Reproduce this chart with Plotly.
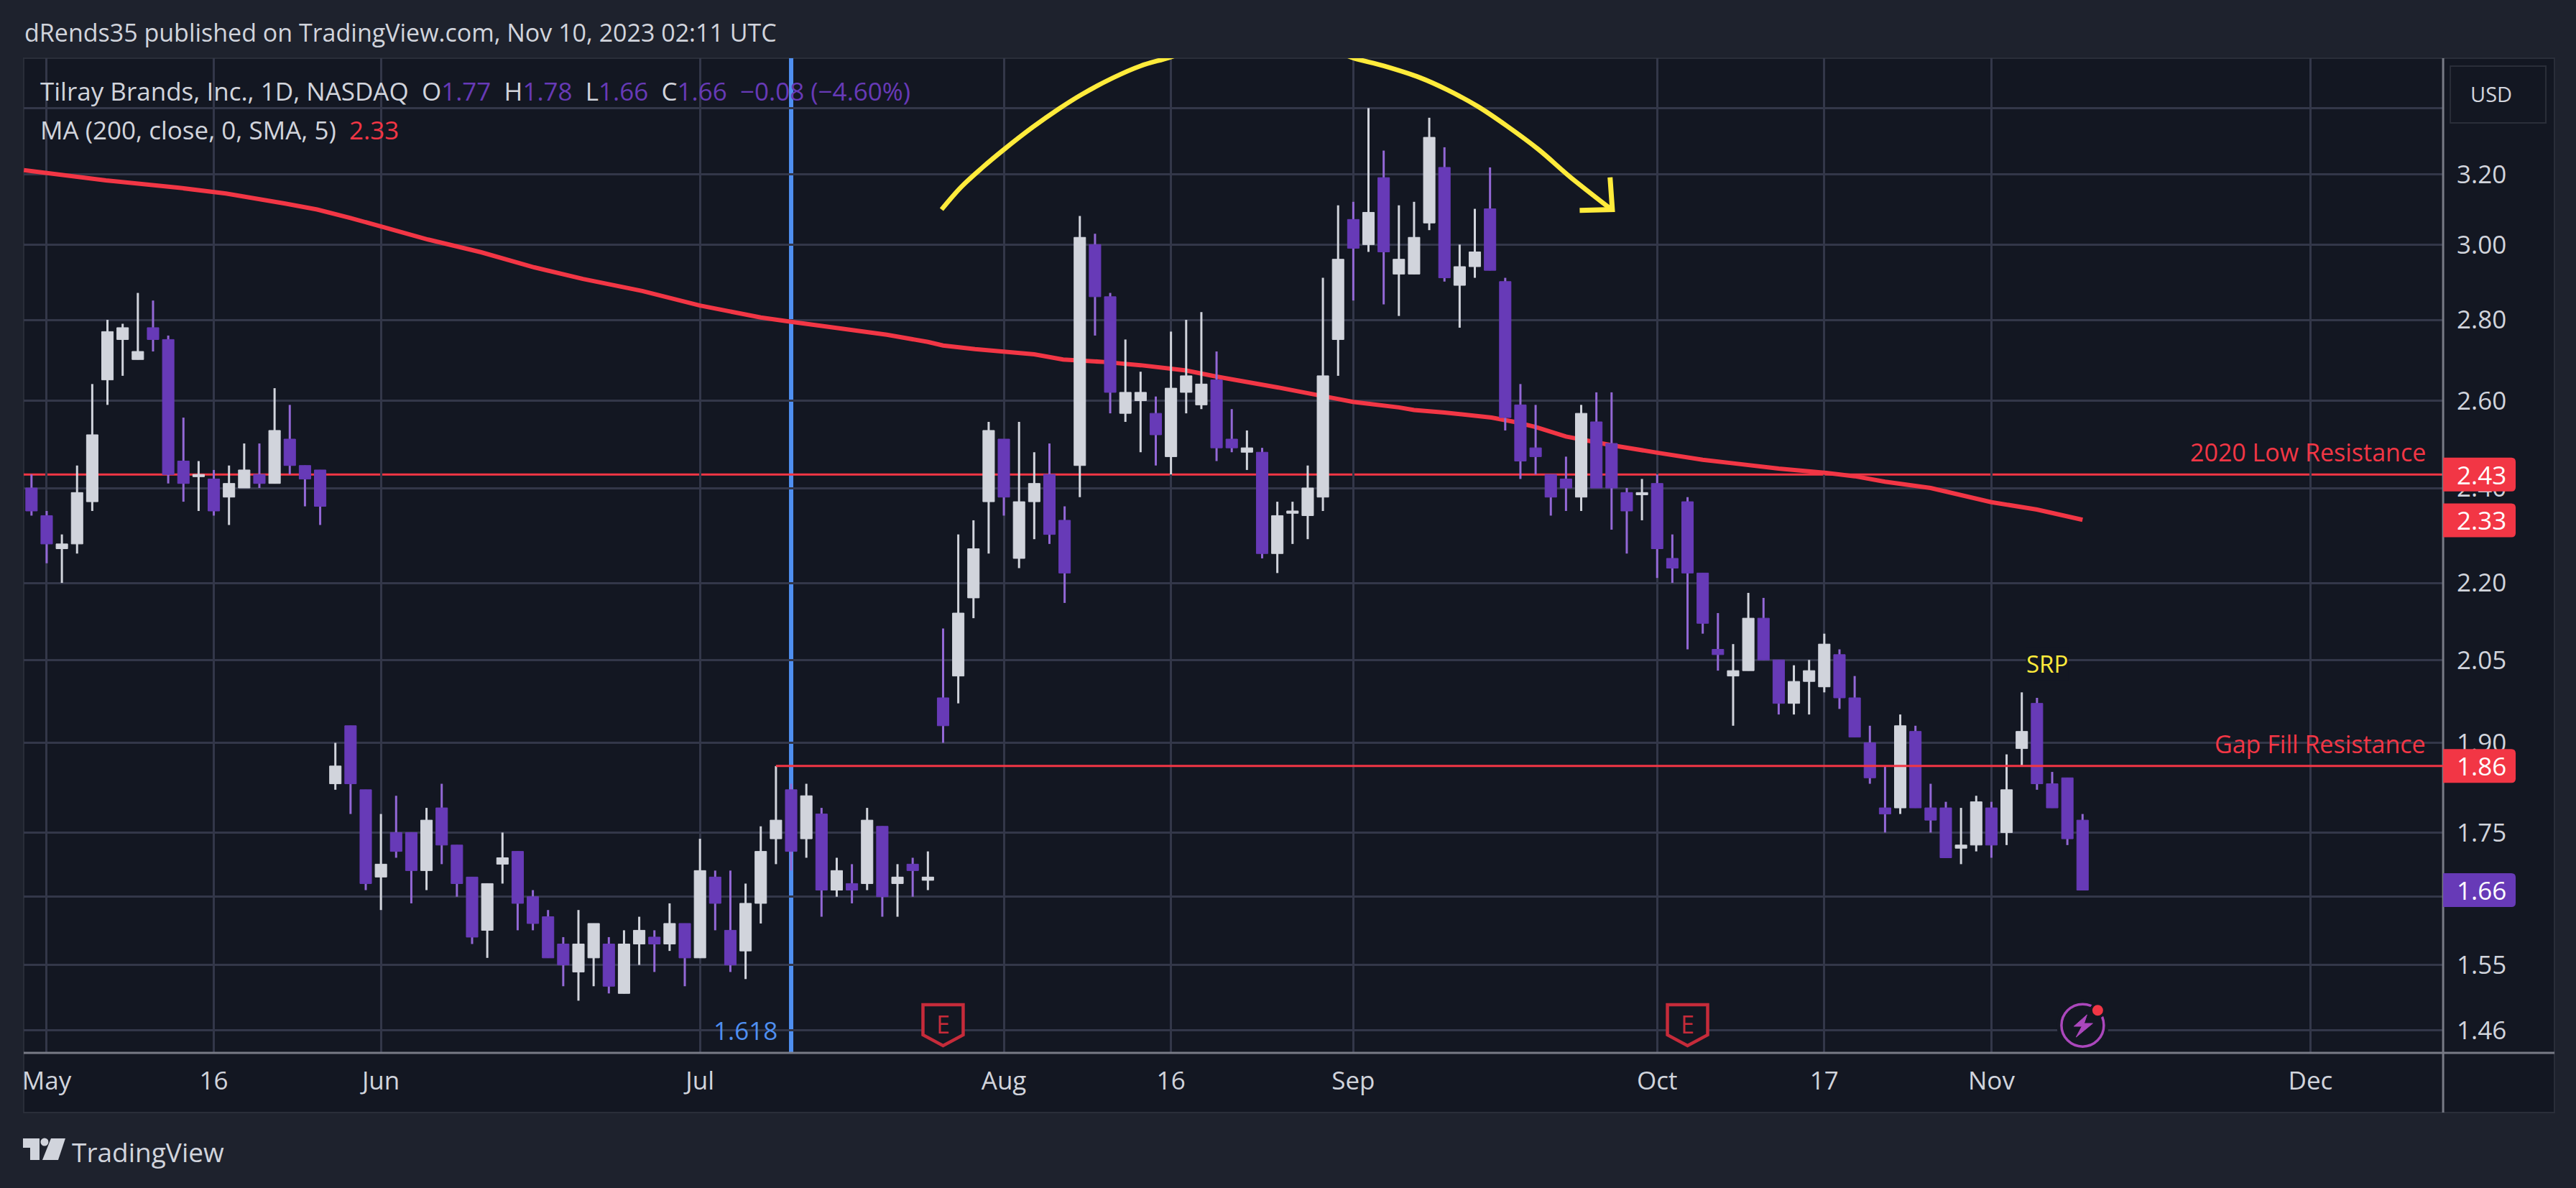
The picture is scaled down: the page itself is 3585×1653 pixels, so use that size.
import numpy as np
import plotly.graph_objects as go

# ---------- data ----------
opens = [2.40,2.34,2.27,2.28,2.37,2.65,2.75,2.70,2.78,2.75,2.46,2.425,2.42,2.38,2.40,2.43,2.41,2.51,2.45,2.44,
         1.83,1.93,1.82,1.68,1.75,1.75,1.69,1.79,1.73,1.68,1.60,1.70,1.72,1.65,1.62,1.58,1.54,1.56,1.58,1.51,
         1.58,1.59,1.58,1.61,1.56,1.68,1.60,1.57,1.64,1.74,1.82,1.74,1.78,1.66,1.67,1.67,1.76,1.67,1.70,1.675,
         1.98,2.02,2.17,2.37,2.51,2.25,2.37,2.43,2.33,2.45,3.00,2.86,2.57,2.60,2.57,2.47,2.62,2.59,2.65,2.51,
         2.48,2.48,2.26,2.345,2.34,2.38,2.75,3.07,3.00,3.19,2.92,2.92,3.06,3.22,2.89,2.94,3.10,2.90,2.59,2.49,
         2.43,2.42,2.38,2.55,2.50,2.39,2.385,2.41,2.25,2.37,2.22,2.07,2.02,2.03,2.13,2.05,1.97,2.01,2.00,2.06,
         1.98,1.90,1.79,1.79,1.92,1.79,1.79,1.725,1.73,1.79,1.75,1.89,1.97,1.83,1.84,1.77]
closes = [2.35,2.28,2.28,2.39,2.52,2.77,2.78,2.72,2.75,2.43,2.41,2.43,2.35,2.41,2.44,2.41,2.53,2.45,2.42,2.36,
          1.86,1.83,1.67,1.70,1.72,1.69,1.77,1.73,1.67,1.59,1.67,1.71,1.64,1.61,1.56,1.55,1.58,1.61,1.52,1.58,
          1.60,1.58,1.61,1.56,1.69,1.64,1.55,1.64,1.72,1.77,1.72,1.81,1.66,1.69,1.66,1.77,1.65,1.68,1.69,1.68,
          1.93,2.14,2.27,2.53,2.38,2.37,2.41,2.30,2.22,3.02,2.86,2.62,2.62,2.62,2.52,2.63,2.66,2.64,2.49,2.49,
          2.49,2.26,2.34,2.35,2.40,2.66,2.96,2.99,3.09,2.98,2.96,3.02,3.31,2.91,2.94,2.98,2.93,2.56,2.46,2.47,
          2.38,2.40,2.57,2.40,2.40,2.35,2.39,2.27,2.23,2.22,2.12,2.06,2.03,2.13,2.05,1.97,2.01,2.03,2.08,1.98,
          1.91,1.84,1.78,1.93,1.79,1.77,1.71,1.73,1.80,1.73,1.82,1.92,1.83,1.79,1.74,1.66]
highs = [2.43,2.35,2.30,2.45,2.64,2.80,2.79,2.87,2.85,2.76,2.56,2.46,2.44,2.45,2.50,2.50,2.63,2.59,2.45,2.44,
         1.90,1.93,1.82,1.78,1.81,1.75,1.79,1.83,1.73,1.68,1.67,1.75,1.72,1.66,1.63,1.59,1.63,1.61,1.59,1.60,
         1.62,1.60,1.64,1.61,1.74,1.69,1.69,1.67,1.76,1.86,1.83,1.83,1.79,1.71,1.70,1.79,1.76,1.70,1.71,1.72,
         2.11,2.30,2.33,2.55,2.51,2.55,2.48,2.50,2.36,3.08,3.03,2.87,2.75,2.67,2.61,2.77,2.80,2.82,2.72,2.58,
         2.53,2.49,2.37,2.37,2.45,2.91,3.11,3.12,3.40,3.27,3.11,3.12,3.37,3.28,3.00,3.10,3.22,2.91,2.64,2.59,
         2.43,2.47,2.59,2.62,2.62,2.40,2.42,2.43,2.30,2.38,2.22,2.14,2.08,2.18,2.17,2.05,2.04,2.05,2.10,2.07,
         2.02,1.93,1.86,1.95,1.93,1.83,1.80,1.79,1.81,1.80,1.88,1.99,1.98,1.85,1.84,1.78]
lows = [2.34,2.24,2.20,2.26,2.35,2.59,2.66,2.70,2.72,2.41,2.37,2.35,2.34,2.32,2.40,2.40,2.41,2.43,2.36,2.32,
        1.82,1.78,1.66,1.63,1.71,1.64,1.66,1.70,1.65,1.58,1.56,1.67,1.60,1.60,1.56,1.52,1.50,1.52,1.51,1.51,
        1.55,1.54,1.57,1.52,1.56,1.60,1.54,1.53,1.61,1.70,1.69,1.71,1.62,1.65,1.64,1.66,1.62,1.62,1.65,1.66,
        1.90,1.97,2.13,2.26,2.34,2.23,2.29,2.28,2.16,2.38,2.76,2.57,2.55,2.48,2.45,2.43,2.57,2.58,2.46,2.48,
        2.44,2.25,2.22,2.28,2.29,2.35,2.66,2.85,2.98,2.84,2.81,2.92,3.04,2.90,2.78,2.91,2.93,2.53,2.42,2.43,
        2.34,2.35,2.35,2.40,2.31,2.26,2.33,2.21,2.20,2.07,2.10,2.03,1.93,2.03,2.05,1.95,1.95,1.95,1.99,1.96,
        1.91,1.83,1.75,1.78,1.79,1.75,1.71,1.70,1.72,1.71,1.73,1.86,1.82,1.79,1.73,1.66]

ma_bars = [-1.5,0,3.9,8.6,11.8,15.7,17.8,20,22,25.1,28.6,32.1,35.3,39.2,43,47,49,52.1,55.3,58,59,61.1,65,66.9,69.6,
           72,75,77,79,81,84,86,89,90,92,95.1,96.6,98,100,103,106,109,111,114,117,119,121,124,128,131,134]
ma_vals = [3.212,3.203,3.182,3.161,3.144,3.115,3.098,3.074,3.050,3.014,2.979,2.938,2.907,2.875,2.837,2.806,2.795,
           2.780,2.762,2.744,2.735,2.726,2.713,2.700,2.694,2.686,2.673,2.658,2.646,2.632,2.611,2.597,2.584,2.578,
           2.572,2.560,2.550,2.538,2.516,2.496,2.479,2.463,2.455,2.443,2.434,2.426,2.414,2.400,2.369,2.353,2.331]

arc_up_bars = [58.9,60.2,61.6,63,64.9,66.6,68.1,70.2,72,73.8,75]
arc_up_vals = [3.098,3.163,3.220,3.273,3.341,3.397,3.442,3.496,3.534,3.560,3.58]
arc_down_bars = [85,86,88,90.4,92.2,94.2,96.1,98.2,100.3,103]
arc_down_vals = [3.58,3.560,3.534,3.496,3.457,3.405,3.345,3.273,3.191,3.098]
arrow_bars = [102.9,103.05,100.9]
arrow_vals = [3.191,3.098,3.0955]

price_ticks = [3.40,3.20,3.00,2.80,2.60,2.40,2.20,2.05,1.90,1.75,1.65,1.55,1.46]
price_tick_labels = ["","3.20","3.00","2.80","2.60","2.40","2.20","2.05","1.90","1.75","","1.55","1.46"]
time_tick_bars = [0,11,22,43,63,74,86,106,117,128,149]
time_tick_labels = ["May","16","Jun","Jul","Aug","16","Sep","Oct","17","Nov","Dec"]

resistance_high = 2.43
resistance_gap = 1.86
ma_last = 2.33
last_close = 1.66
fib_bar = 49
gap_start_bar = 48
earnings_bars = [59, 108]

# ---------- figure ----------
W, H = 3585, 1653
PANE_L, PANE_R, PANE_T, PANE_B = 31, 3400, 81, 1465
OUT_R, OUT_B = 3555, 1548
BAR_X0, BAR_DX = 63, 21.156
X = lambda p: p / W
Y = lambda p: 1 - p / H
FONT = "Open Sans, sans-serif"
BG, PANE = "#1e222d", "#131722"
GRID, AXIS = "#333749", "#787b86"
TXT, RED, YEL, BLUE = "#d1d4dc", "#f23645", "#ffeb3b", "#4f8ff0"
UP, DOWN, DOWN_WICK = "#d1d4dc", "#673ab7", "#9368d6"

x_bars = np.arange(len(opens)) - 1
o, c, hi_, lo_ = map(np.array, (opens, closes, highs, lows))
body_hi, body_lo = np.maximum(o, c), np.minimum(o, c)

xr = [(PANE_L - BAR_X0) / BAR_DX, (PANE_R - BAR_X0) / BAR_DX]
yr = [np.log10(1.4299), np.log10(3.559)]
ydom = [Y(PANE_B), Y(PANE_T)]

def y_paper(price):
    f = (np.log10(price) - yr[0]) / (yr[1] - yr[0])
    return ydom[0] + f * (ydom[1] - ydom[0])

def px_of_bar(b):
    return BAR_X0 + BAR_DX * b

fig = go.Figure()
fig.add_trace(go.Scatter(x=ma_bars, y=ma_vals, mode="lines", line=dict(color=RED, width=6), xaxis="x", yaxis="y"))
for bx, by in ((arc_up_bars, arc_up_vals), (arc_down_bars, arc_down_vals)):
    fig.add_trace(go.Scatter(x=bx, y=by, mode="lines", line=dict(color=YEL, width=6.5, shape="spline"), xaxis="x", yaxis="y"))
fig.add_trace(go.Scatter(x=arrow_bars, y=arrow_vals, mode="lines", line=dict(color=YEL, width=7), xaxis="x", yaxis="y"))
# wicks
fig.add_trace(go.Ohlc(x=x_bars, open=o, high=hi_, low=lo_, close=c, tickwidth=0, xaxis="x2", yaxis="y2",
                      increasing=dict(line=dict(color=UP, width=3)),
                      decreasing=dict(line=dict(color=DOWN_WICK, width=3))))
# bodies
fig.add_trace(go.Candlestick(x=x_bars, open=o, high=body_hi, low=body_lo, close=c, xaxis="x3", yaxis="y3",
                             increasing=dict(line=dict(color=UP, width=1), fillcolor=UP),
                             decreasing=dict(line=dict(color=DOWN, width=1), fillcolor=DOWN)))

shapes = []
def rect(x0, y0, x1, y1, fill, line=None, lw=0, layer="below"):
    shapes.append(dict(type="rect", xref="paper", yref="paper", x0=X(x0), x1=X(x1), y0=Y(y0), y1=Y(y1),
                       fillcolor=fill, line=dict(color=line or fill, width=lw), layer=layer))
def pline(x0, y0, x1, y1, color, w, layer="above"):
    shapes.append(dict(type="line", xref="paper", yref="paper", x0=X(x0), x1=X(x1), y0=Y(y0), y1=Y(y1),
                       line=dict(color=color, width=w), layer=layer))
def path(pts, fill, line, lw, layer="above"):
    d = "M" + " L".join(f"{X(a):.6f},{Y(b):.6f}" for a, b in pts) + " Z"
    shapes.append(dict(type="path", xref="paper", yref="paper", path=d, fillcolor=fill,
                       line=dict(color=line, width=lw), layer=layer))
def circle(cx, cy, r, fill, line, lw, layer="above"):
    shapes.append(dict(type="circle", xref="paper", yref="paper", x0=X(cx - r), x1=X(cx + r), y0=Y(cy + r), y1=Y(cy - r),
                       fillcolor=fill, line=dict(color=line, width=lw), layer=layer))

# outer chart block
rect(PANE_L, PANE_T, OUT_R, OUT_B, PANE, "#2a2e39", 2)
pline(PANE_R, PANE_T, PANE_R, OUT_B, AXIS, 3)
pline(PANE_L, PANE_B, OUT_R, PANE_B, AXIS, 3)

# level lines / fib line
shapes.append(dict(type="line", xref="x", yref="paper", x0=fib_bar, x1=fib_bar, y0=ydom[0], y1=ydom[1],
                   line=dict(color=BLUE, width=6), layer="below"))
shapes.append(dict(type="line", xref="paper", yref="paper", x0=X(PANE_L), x1=X(PANE_R),
                   y0=y_paper(resistance_high), y1=y_paper(resistance_high), line=dict(color=RED, width=3), layer="below"))
shapes.append(dict(type="line", xref="x", yref="paper", x0=gap_start_bar, x1=xr[1],
                   y0=y_paper(resistance_gap), y1=y_paper(resistance_gap), line=dict(color=RED, width=3), layer="above"))

ann = []
def text(s, x, y, size, color=TXT, anchor="left", bg=None, **kw):
    a = dict(text=s, xref="paper", yref="paper", x=X(x), y=Y(y), xanchor=anchor, yanchor="middle", showarrow=False,
             font=dict(family=FONT, size=size, color=color), borderpad=0)
    if bg:
        a["bgcolor"] = bg
    a.update(kw)
    ann.append(a)

def tag(price, color, label):
    yc = y_paper(price)
    h = 47 / H / 2
    r = 6
    xa, xb = X(PANE_R), X(3501)
    rx, ry = r / W, r / H
    shapes.append(dict(type="path", xref="paper", yref="paper", layer="above", fillcolor=color, line=dict(width=0),
                       path=f"M{xa},{yc+h} L{xb-rx},{yc+h} Q{xb},{yc+h} {xb},{yc+h-ry} L{xb},{yc-h+ry} "
                            f"Q{xb},{yc-h} {xb-rx},{yc-h} L{xa},{yc-h} Z"))
    ann.append(dict(text=label, xref="paper", yref="paper", x=X(3453), y=yc, xanchor="center", yanchor="middle",
                    showarrow=False, font=dict(family=FONT, size=35, color="#ffffff")))

tag(resistance_high, RED, f"{resistance_high:.2f}")
tag(ma_last, RED, f"{ma_last:.2f}")
tag(resistance_gap, RED, f"{resistance_gap:.2f}")
tag(last_close, DOWN, f"{last_close:.2f}")

# currency button
rect(3410, 92, 3543, 171, PANE, "#2a2e39", 2, layer="above")
text("USD", 3467, 130, 29, anchor="center")

# header / legend
text("dRends35 published on TradingView.com, Nov 10, 2023 02:11 UTC", 31, 45, 34)
P = f'<span style="color:{DOWN}">'
legend1 = (f"Tilray Brands, Inc., 1D, NASDAQ&nbsp;&nbsp;O{P}1.77</span>&nbsp;&nbsp;H{P}1.78</span>&nbsp;&nbsp;"
           f"L{P}1.66</span>&nbsp;&nbsp;C{P}1.66</span>&nbsp;&nbsp;{P}\u22120.08 (\u22124.60%)</span>")
text(legend1, 53, 127, 35)
text(f'MA (200, close, 0, SMA, 5)&nbsp;&nbsp;<span style="color:{RED}">{ma_last:.2f}</span>', 53, 180, 35)

# chart drawings
text("2020 Low Resistance", 3377, 629, 34, RED, "right")
text("Gap Fill Resistance", 3377, 1035, 34, RED, "right")
text("SRP", 2849, 923, 33, YEL, "center", bg=PANE)
text("1.618", 1082, 1433, 35, BLUE, "right")

# earnings markers
for b in earnings_bars:
    cx = px_of_bar(b)
    path([(cx - 28, 1398), (cx + 28, 1398), (cx + 28, 1440), (cx, 1455), (cx - 28, 1440)], PANE, "#c62b3a", 4.5)
    text("E", cx, 1425, 34, "#c62b3a", "center")

# lightning marker
circle(2898, 1426.7, 36, PANE, PANE, 0)
circle(2898, 1426.7, 29.5, PANE, "#ab47bc", 3.5)
circle(2919, 1405.7, 11, PANE, PANE, 0)
circle(2919, 1405.7, 7.5, RED, RED, 0)
path([(2904, 1412), (2886, 1428), (2897, 1428), (2889, 1443), (2912, 1424), (2900, 1424)], "#ab47bc", "#ab47bc", 1)

# watermark
path([(30, 1584), (53, 1584), (53, 1614), (40, 1614), (40, 1597), (30, 1597)], TXT, TXT, 0)
circle(60, 1589, 5.5, TXT, TXT, 0)
path([(69, 1584), (89, 1584), (79, 1614), (57, 1614)], TXT, TXT, 0)
text("TradingView", 97, 1602, 37)

axis_common = dict(showgrid=False, zeroline=False, showline=False, showticklabels=False, ticks="")
fig.update_layout(
    width=W, height=H, margin=dict(l=0, r=0, t=0, b=0, pad=0), autosize=False,
    paper_bgcolor=BG, plot_bgcolor=PANE, showlegend=False, boxgap=0.24, boxgroupgap=0, hovermode=False, dragmode=False,
    font=dict(family=FONT, color=TXT),
    xaxis=dict(domain=[X(PANE_L), X(PANE_R)], range=xr, tickmode="array", tickvals=time_tick_bars,
               ticktext=time_tick_labels, showgrid=True, gridcolor=GRID, gridwidth=3, zeroline=False,
               showline=False, ticks="", tickfont=dict(family=FONT, size=35, color=TXT), ticklabelstandoff=15,
               rangeslider=dict(visible=False), tickangle=0, anchor="y"),
    yaxis=dict(domain=ydom, type="log", range=yr, side="right", tickmode="array", tickvals=price_ticks,
               ticktext=price_tick_labels, showgrid=True, gridcolor=GRID, gridwidth=3,
               zeroline=False, showline=False, ticks="", tickfont=dict(family=FONT, size=35, color=TXT),
               ticklabelstandoff=18, anchor="x"),
    xaxis2=dict(overlaying="x", matches="x", rangeslider=dict(visible=False), anchor="y2", **axis_common),
    yaxis2=dict(overlaying="y", matches="y", type="log", side="right", anchor="x2", **axis_common),
    xaxis3=dict(overlaying="x", matches="x", rangeslider=dict(visible=False), anchor="y3", **axis_common),
    yaxis3=dict(overlaying="y", matches="y", type="log", side="right", anchor="x3", **axis_common),
    shapes=shapes, annotations=ann,
)

fig.write_html("out.html", config=dict(displayModeBar=False, staticPlot=True),
               post_script="document.body.style.margin='0';document.body.style.overflow='hidden';")
